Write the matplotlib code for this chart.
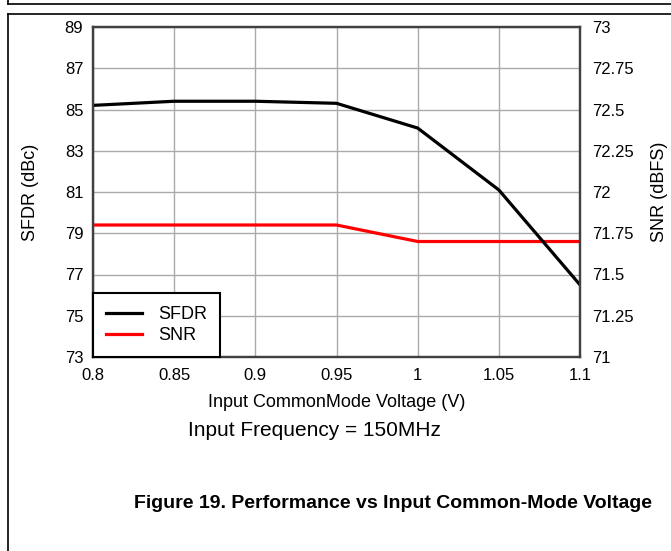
import matplotlib
matplotlib.use("Agg")
import matplotlib.pyplot as plt
from matplotlib.lines import Line2D

plt.rcParams['font.family'] = ['Liberation Sans', 'DejaVu Sans']

# data
voltage = [0.8, 0.85, 0.9, 0.95, 1.0, 1.05, 1.1]
sfdr = [85.2, 85.4, 85.4, 85.3, 84.1, 81.1, 76.5]
snr = [71.8, 71.8, 71.8, 71.8, 71.7, 71.7, 71.7]

x_ticks = [0.8, 0.85, 0.9, 0.95, 1.0, 1.05, 1.1]
x_labels = ['0.8', '0.85', '0.9', '0.95', '1', '1.05', '1.1']
left_ticks = [73, 75, 77, 79, 81, 83, 85, 87, 89]
right_ticks = [71, 71.25, 71.5, 71.75, 72, 72.25, 72.5, 72.75, 73]
right_labels = ['71', '71.25', '71.5', '71.75', '72', '72.25', '72.5', '72.75', '73']

W, H = 671, 551


def main():
    fig = plt.figure(figsize=(W / 100, H / 100), dpi=100)

    # axes box in pixels: left 93, right 580, top 27, bottom 357
    ax2 = fig.add_axes([93 / W, 1 - 357 / H, 487 / W, 330 / H])
    ax = ax2.twinx()
    # SFDR axes (left scale) is drawn on top of the SNR axes
    ax.yaxis.tick_left()
    ax.yaxis.set_label_position('left')
    ax2.yaxis.tick_right()
    ax2.yaxis.set_label_position('right')

    ax2.set_axisbelow(True)
    ax2.grid(True, color='#aaaaaa', linewidth=1.0)

    l2, = ax2.plot(voltage, snr, color='#ff0000', linewidth=2.3, label='SNR')
    l1, = ax.plot(voltage, sfdr, color='black', linewidth=2.3, label='SFDR')

    ax.set_xlim(0.8, 1.1)
    ax.set_ylim(73, 89)
    ax2.set_ylim(71, 73)
    ax2.set_xticks(x_ticks)
    ax2.set_xticklabels(x_labels)
    ax.set_yticks(left_ticks)
    ax2.set_yticks(right_ticks)
    ax2.set_yticklabels(right_labels)

    for a in (ax, ax2):
        for s in a.spines.values():
            s.set_color('#404040')
            s.set_linewidth(1.6)
        a.tick_params(length=0, labelsize=12, colors='black')
    ax.tick_params(axis='y', pad=7)
    ax2.tick_params(axis='y', pad=9)
    ax2.tick_params(axis='x', pad=8)

    ax.set_ylabel('SFDR (dBc)', fontsize=13)
    ax.yaxis.set_label_coords(-0.11, 0.5)
    ax2.set_ylabel('SNR (dBFS)', fontsize=13)
    ax2.yaxis.set_label_coords(1.145, 0.5)
    ax2.set_xlabel('Input CommonMode Voltage (V)', fontsize=13, labelpad=8)

    leg = ax.legend([l1, l2], ['SFDR', 'SNR'], loc='lower left',
                    bbox_to_anchor=(0, 0), borderaxespad=0, fancybox=False,
                    framealpha=1, edgecolor='black', fontsize=13,
                    handlelength=2.0, handletextpad=0.9, borderpad=0.7,
                    labelspacing=0.25)
    leg.get_frame().set_linewidth(1.5)

    fig.text(314 / W, 1 - 430 / H, 'Input Frequency = 150MHz', fontsize=15,
             ha='center', va='center')
    fig.text(393 / W, 1 - 503 / H,
             'Figure 19. Performance vs Input Common-Mode Voltage',
             fontsize=14, fontweight='bold', ha='center', va='center')

    # page frame lines
    def px_line(x0, y0, x1, y1):
        fig.add_artist(Line2D([x0 / W, x1 / W], [1 - y0 / H, 1 - y1 / H],
                              transform=fig.transFigure, color='black',
                              linewidth=1.2))

    px_line(7.5, 0, 7.5, 3.5)
    px_line(7.5, 3.5, W, 3.5)
    px_line(7.5, 13.5, W, 13.5)
    px_line(7.5, 13.5, 7.5, H)

    fig.savefig('out.png', dpi=100)


if __name__ == '__main__':
    main()
